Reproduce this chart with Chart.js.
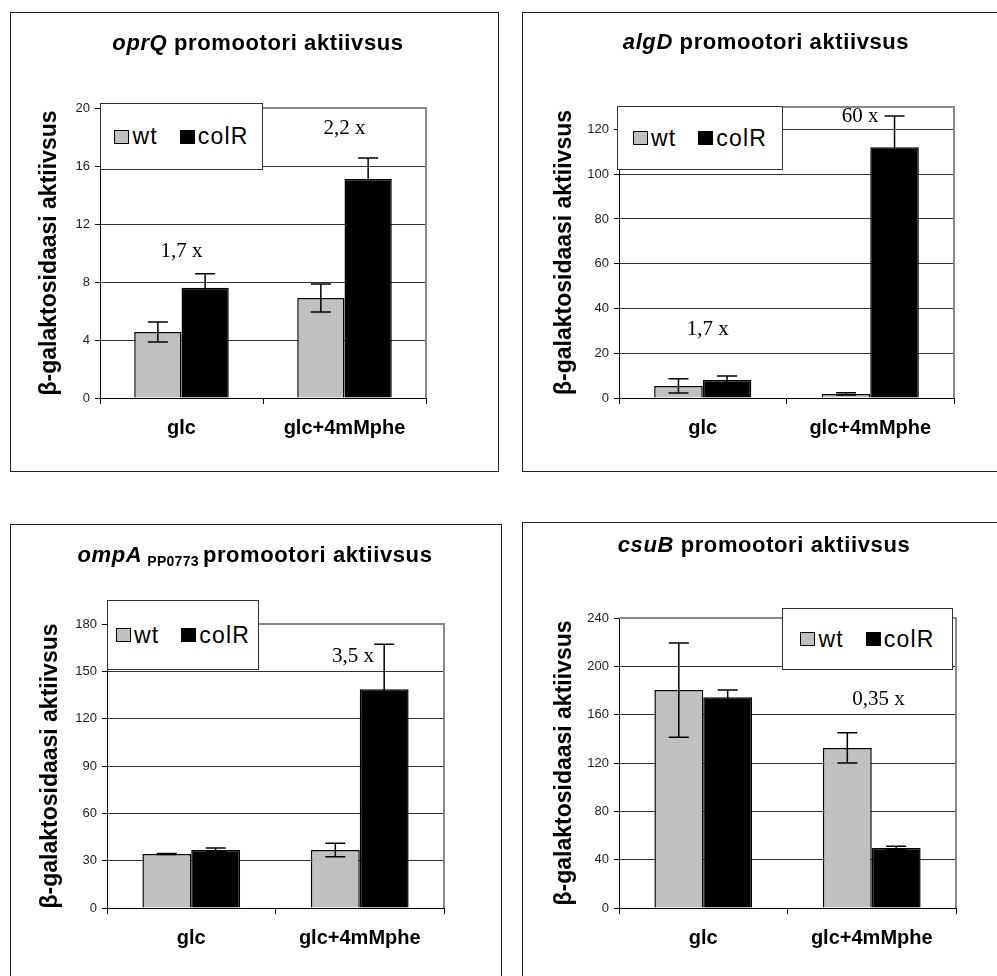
<!DOCTYPE html>
<html>
<head>
<meta charset="utf-8">
<script src="https://cdn.jsdelivr.net/npm/chart.js@4.4.1/dist/chart.umd.min.js"></script>
<style>
  body {
    margin: 0;
    width: 997px;
    height: 976px;
    position: relative;
    overflow: hidden;
    background: #fff;
    font-family: "Liberation Sans", Arial, sans-serif;
  }
  .box {
    position: absolute;
    border: 1.5px solid #222;
    box-sizing: border-box;
  }
  canvas { position: absolute; }
  .title {
    position: absolute;
    transform: translate(-50%, -50%);
    font-weight: bold;
    font-size: 22px;
    line-height: 1;
    letter-spacing: 0.6px;
    white-space: nowrap;
  }
  .title sub {
    font-size: 14px;
    vertical-align: -4px;
    letter-spacing: 0.3px;
    margin: 0 4px 0 5px;
  }
  .legend {
    position: absolute;
    background: #fff;
    border: 1px solid #333;
    box-sizing: border-box;
    display: flex;
    align-items: center;
    justify-content: center;
    gap: 22px;
    font-size: 23px;
    letter-spacing: 1.2px;
  }
  .legend .item { display: flex; align-items: center; }
  .legend .swatch {
    width: 15px;
    height: 14px;
    border: 1px solid #000;
    box-sizing: border-box;
    margin-right: 3px;
  }
</style>
</head>
<body>
<script>
// shared
const categories = ["glc", "glc+4mMphe"];
const seriesNames = ["wt", "colR"];
const seriesColors = ["#c0c0c0", "#000000"];
const yAxisTitle = "β-galaktosidaasi aktiivsus";

// oprQ
const oprQWt = [4.55, 6.9];
const oprQWtErr = [0.69, 0.97];
const oprQColR = [7.6, 15.1];
const oprQColRErr = [0.97, 1.45];
const oprQTicks = [0, 4, 8, 12, 16, 20];
const oprQMax = 20;
const oprQFold = ["1,7 x", "2,2 x"];
const oprQFoldX = [0, 1];
const oprQFoldY = [10.1, 18.6];

// algD
const algDWt = [5.4, 1.8];
const algDWtErr = [3.2, 0.5];
const algDColR = [8.0, 112];
const algDColRErr = [1.8, 14];
const algDTicks = [0, 20, 40, 60, 80, 100, 120];
const algDMax = 130;
const algDFold = ["1,7 x", "60 x"];
const algDFoldX = [0.03, 0.94];
const algDFoldY = [30.4, 125.8];

// ompA PP0773
const ompAWt = [34.2, 36.8];
const ompAWtErr = [0.3, 4.3];
const ompAColR = [36.8, 138.6];
const ompAColRErr = [1.2, 28.5];
const ompATicks = [0, 30, 60, 90, 120, 150, 180];
const ompAMax = 180;
const ompAFold = ["3,5 x"];
const ompAFoldX = [0.96];
const ompAFoldY = [159.3];

// csuB
const csuBWt = [180.4, 132.5];
const csuBWtErr = [39, 12.5];
const csuBColR = [174.5, 49.7];
const csuBColRErr = [6, 1.5];
const csuBTicks = [0, 40, 80, 120, 160, 200, 240];
const csuBMax = 240;
const csuBFold = ["0,35 x"];
const csuBFoldX = [1.04];
const csuBFoldY = [172.4];

Chart.defaults.font.family = '"Liberation Sans", Arial, sans-serif';
Chart.defaults.color = "#000";

// error bars drawn from each dataset's errors array
const errorBars = {
  id: "errorBars",
  afterDatasetsDraw(chart) {
    const ctx = chart.ctx;
    const y = chart.scales.y;
    chart.data.datasets.forEach((ds, i) => {
      chart.getDatasetMeta(i).data.forEach((bar, j) => {
        const top = y.getPixelForValue(ds.data[j] + ds.errors[j]);
        const bot = y.getPixelForValue(ds.data[j] - ds.errors[j]);
        ctx.save();
        ctx.strokeStyle = "#000";
        ctx.lineWidth = 1.5;
        ctx.beginPath();
        ctx.moveTo(bar.x, top); ctx.lineTo(bar.x, bot);
        ctx.moveTo(bar.x - 10, top); ctx.lineTo(bar.x + 10, top);
        ctx.moveTo(bar.x - 10, bot); ctx.lineTo(bar.x + 10, bot);
        ctx.stroke();
        ctx.restore();
      });
    });
  }
};

// grey top and right edge of the plot area
const plotFrame = {
  id: "plotFrame",
  beforeDatasetsDraw(chart) {
    const { ctx, chartArea: a } = chart;
    ctx.save();
    ctx.strokeStyle = "#888";
    ctx.lineWidth = 2;
    ctx.beginPath();
    ctx.moveTo(a.left, a.top);
    ctx.lineTo(a.right, a.top);
    ctx.lineTo(a.right, a.bottom);
    ctx.stroke();
    ctx.restore();
  }
};

// "n x" fold change labels
const foldLabels = {
  id: "foldLabels",
  afterDatasetsDraw(chart, args, opts) {
    const { ctx, scales: { x, y } } = chart;
    ctx.save();
    ctx.font = '21px "Liberation Serif", "Times New Roman", serif';
    ctx.fillStyle = "#000";
    ctx.textAlign = "center";
    ctx.textBaseline = "middle";
    opts.text.forEach((t, i) => {
      ctx.fillText(t, x.getPixelForValue(opts.x[i]), y.getPixelForValue(opts.y[i]));
    });
    ctx.restore();
  }
};

const panels = [
  {
    title: "<i>oprQ</i> promootori aktiivsus",
    wt: oprQWt, wtErr: oprQWtErr, colR: oprQColR, colRErr: oprQColRErr,
    ticks: oprQTicks, max: oprQMax, fold: oprQFold, foldX: oprQFoldX, foldY: oprQFoldY,
    box: [10, 12, 489, 460], plot: [100, 108, 426, 398], yLabelX: 50,
    titleAt: [258, 43], legend: [100, 103, 163, 67]
  },
  {
    title: "<i>algD</i> promootori aktiivsus",
    wt: algDWt, wtErr: algDWtErr, colR: algDColR, colRErr: algDColRErr,
    ticks: algDTicks, max: algDMax, fold: algDFold, foldX: algDFoldX, foldY: algDFoldY,
    box: [522, 12, 478, 460], plot: [619, 107, 954, 398], yLabelX: 565,
    titleAt: [766, 42], legend: [617, 106, 166, 64]
  },
  {
    title: "<i>ompA</i><sub>PP0773</sub>promootori aktiivsus",
    wt: ompAWt, wtErr: ompAWtErr, colR: ompAColR, colRErr: ompAColRErr,
    ticks: ompATicks, max: ompAMax, fold: ompAFold, foldX: ompAFoldX, foldY: ompAFoldY,
    box: [10, 524, 492, 460], plot: [107, 624, 444, 908], yLabelX: 51,
    titleAt: [255, 556], legend: [107, 600, 152, 70]
  },
  {
    title: "<i>csuB</i> promootori aktiivsus",
    wt: csuBWt, wtErr: csuBWtErr, colR: csuBColR, colRErr: csuBColRErr,
    ticks: csuBTicks, max: csuBMax, fold: csuBFold, foldX: csuBFoldX, foldY: csuBFoldY,
    box: [522, 522, 478, 460], plot: [619, 618, 956, 908], yLabelX: 565,
    titleAt: [764, 545], legend: [782, 608, 171, 62]
  }
];

panels.forEach(p => {
  const [bx, by, bw, bh] = p.box;
  const [pl, pt, pr, pb] = p.plot;

  const box = document.createElement("div");
  box.className = "box";
  Object.assign(box.style, { left: bx + "px", top: by + "px", width: bw + "px", height: bh + "px" });
  document.body.appendChild(box);

  const canvas = document.createElement("canvas");
  canvas.width = bw;
  canvas.height = bh;
  Object.assign(canvas.style, { left: bx + "px", top: by + "px", width: bw + "px", height: bh + "px" });
  document.body.appendChild(canvas);

  const titleFontSize = 23;
  const titleLine = 1.2;
  const barStyle = { borderColor: "#000", borderWidth: 1.5, borderSkipped: "start" };

  new Chart(canvas, {
    type: "bar",
    data: {
      labels: categories,
      datasets: [
        { label: seriesNames[0], data: p.wt, errors: p.wtErr, backgroundColor: seriesColors[0], ...barStyle },
        { label: seriesNames[1], data: p.colR, errors: p.colRErr, backgroundColor: seriesColors[1], ...barStyle }
      ]
    },
    options: {
      responsive: false,
      animation: false,
      devicePixelRatio: 1,
      layout: { padding: { left: 0, top: pt - by, right: bx + bw - pr, bottom: 0 } },
      datasets: {
        bar: { categoryPercentage: 0.58, barPercentage: 1 }
      },
      plugins: {
        legend: { display: false },
        title: { display: false },
        tooltip: { enabled: false },
        foldLabels: { text: p.fold, x: p.foldX, y: p.foldY }
      },
      scales: {
        x: {
          offset: true,
          grid: { offset: true, drawOnChartArea: false, drawTicks: true, tickLength: 6, color: "#000" },
          border: { color: "#000", width: 1 },
          ticks: { font: { size: 20, weight: "bold" }, color: "#000", padding: 12, maxRotation: 0 },
          afterFit: s => { s.height = by + bh - pb; }
        },
        y: {
          min: 0,
          max: p.max,
          afterBuildTicks: s => { s.ticks = p.ticks.map(v => ({ value: v })); },
          grid: { color: "#333", lineWidth: 1, tickLength: 5, tickColor: "#000" },
          border: { color: "#000", width: 1 },
          ticks: { font: { size: 13 }, color: "#222", padding: 5 },
          title: {
            display: true,
            text: yAxisTitle,
            font: { size: titleFontSize, weight: "bold", lineHeight: titleLine },
            color: "#000",
            padding: { top: p.yLabelX - bx - titleFontSize * titleLine / 2, bottom: 0 }
          },
          afterFit: s => { s.width = pl - bx; }
        }
      }
    },
    plugins: [plotFrame, errorBars, foldLabels]
  });

  const t = document.createElement("div");
  t.className = "title";
  t.innerHTML = p.title;
  Object.assign(t.style, { left: p.titleAt[0] + "px", top: p.titleAt[1] + "px" });
  document.body.appendChild(t);

  const [lx, ly, lw, lh] = p.legend;
  const lg = document.createElement("div");
  lg.className = "legend";
  Object.assign(lg.style, { left: lx + "px", top: ly + "px", width: lw + "px", height: lh + "px" });
  seriesNames.forEach((name, i) => {
    const item = document.createElement("span");
    item.className = "item";
    const sw = document.createElement("span");
    sw.className = "swatch";
    sw.style.background = seriesColors[i];
    item.appendChild(sw);
    item.appendChild(document.createTextNode(name));
    lg.appendChild(item);
  });
  document.body.appendChild(lg);
});
</script>
</body>
</html>
